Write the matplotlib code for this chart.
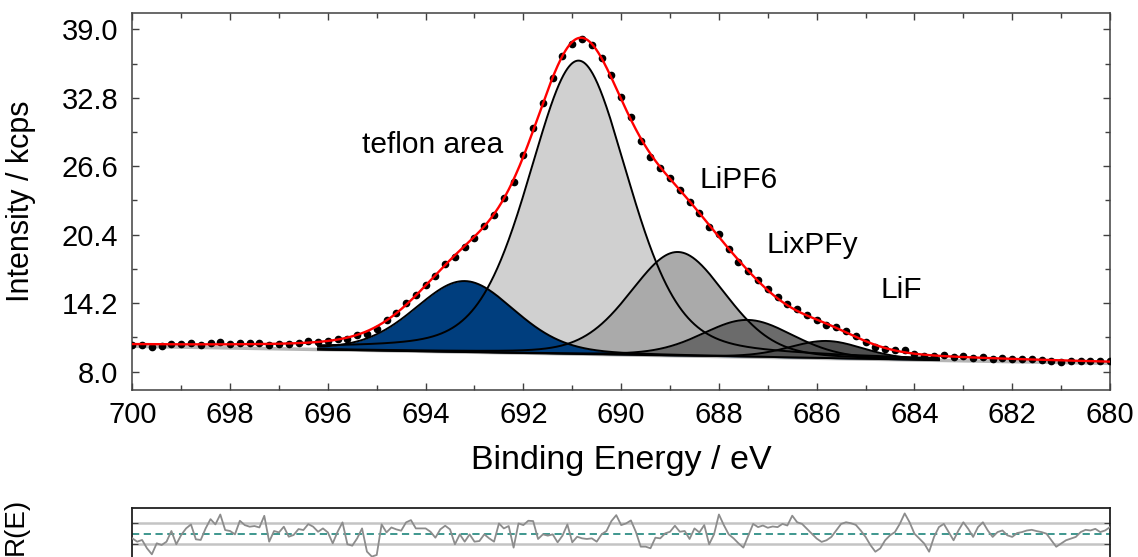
import numpy as np
import matplotlib
matplotlib.use("Agg")
import matplotlib.pyplot as plt
from matplotlib.ticker import MultipleLocator, FixedLocator, FormatStrFormatter, NullFormatter

plt.rcParams['font.family'] = ['Liberation Sans', 'DejaVu Sans']

# Fitted components: centre (eV), height above background (kcps), FWHM (eV), Lorentzian fraction
comp_center = [693.20, 690.87, 688.84, 687.41, 685.80]
comp_height = [6.43, 26.57, 9.40, 3.36, 1.58]
comp_fwhm = [2.40, 2.40, 2.30, 2.20, 1.80]
comp_mix = [0.2, 0.3, 0.2, 0.2, 0.2]
comp_colors = ["#003e7e", "#d0d0d0", "#aaaaaa", "#6b6b6b", "#4f4f4f"]

# Linear background at 700 eV and 680 eV, and the energy window of the fit
bg_start, bg_end = 10.30, 8.75
region = (683.5, 696.2)

# Measured intensity (kcps), 700 -> 680 eV in 0.2 eV steps
counts = [
    10.45, 10.42, 10.25, 10.35, 10.51, 10.46, 10.58, 10.40, 10.64, 10.69,
    10.51, 10.63, 10.57, 10.57, 10.42, 10.55, 10.52, 10.64, 10.74, 10.71,
    10.80, 10.93, 10.96, 11.28, 11.45, 11.84, 12.65, 13.35, 14.20, 14.97,
    15.88, 16.68, 17.78, 18.38, 19.26, 20.11, 21.15, 22.14, 23.76, 25.16,
    27.64, 30.07, 32.28, 34.63, 36.56, 37.67, 38.13, 37.58, 36.36, 34.88,
    32.86, 31.07, 28.89, 27.44, 26.43, 25.50, 24.49, 23.34, 22.38, 21.10,
    20.49, 19.12, 17.96, 17.10, 16.30, 15.45, 14.72, 14.12, 13.65, 13.15,
    12.66, 12.27, 12.00, 11.69, 11.25, 10.72, 10.22, 10.07, 9.94, 9.97,
    9.63, 9.43, 9.43, 9.51, 9.29, 9.44, 9.25, 9.37, 9.18, 9.22,
    9.12, 9.15, 9.14, 9.09, 8.98, 8.92, 8.95, 8.99, 8.99, 8.95,
    8.98,
]

# Normalised fit residual, 700 -> 680 eV in 0.1 eV steps
residual = [
    -0.43, -0.74, -0.58, -1.35, -1.91, -0.89, -1.05, -0.74, 0.25, -0.98,
    -0.12, 0.49, 0.86, -0.52, -0.58, 0.49, 1.35, 0.86, 1.78, 0.34,
    0.25, -0.06, 1.20, 0.80, 0.65, 0.71, 0.58, 1.66, -0.74, 0.25,
    0.12, 0.65, -0.28, -0.12, 0.43, 0.34, 0.89, 0.65, 0.18, 0.49,
    0.12, -0.89, 0.18, 1.05, -0.98, -1.11, -0.43, 0.49, -1.66, -2.12,
    -1.97, 0.86, 0.12, 0.58, 0.40, 0.28, 1.05, 1.26, 0.49, 0.49,
    0.49, 0.18, -0.37, 0.40, 0.74, 0.40, -0.98, -0.06, -0.74, -0.06,
    -0.74, -0.68, -0.06, -0.43, -0.74, 0.95, 0.49, 0.71, -1.29, 0.95,
    0.80, 1.20, 1.17, -0.49, -0.06, -0.18, -0.06, -0.80, -0.18, 0.86,
    -0.80, -0.28, -0.43, -0.49, -0.43, -0.74, -0.06, 0.25, 1.17, 1.72,
    0.80, 0.95, 1.23, 0.18, -1.20, -1.20, -1.35, -0.37, -0.43, 0.03,
    0.18, 0.74, 0.18, 0.25, -0.49, 0.49, 0.12, 0.80, -0.98, -0.06,
    1.78, 0.80, -0.06, -0.43, -0.89, -1.29, -0.18,
    0.91, 0.61, 0.76, 0.55, 0.67, 0.61, 0.91, 0.76, 1.67, 1.06,
    0.91, 0.45, 0.00, -0.45, -0.76, -0.61, -0.30, 0.30, 0.91, 1.06,
    0.97, 0.82, 0.30, -0.30, -1.06, -1.67, -1.36, -0.61, -0.15, 0.15,
    0.91, 1.88, 1.06, 0.00, -0.45, -0.91, -1.67, -0.30, 0.61, 0.91,
    0.15, -0.61, 0.30, 1.06, 0.45, -0.30, 0.61, 1.06, 0.30, -0.30,
    0.15, 0.30, -0.15, -0.30, 0.06, 0.15, 0.30, 0.36, 0.24, 0.15,
    0.00, -0.61, -1.21, -0.91, -0.61, -0.45, -0.30, 0.15, 0.36, 0.30,
    0.45, 0.15, 0.30, 0.61,
]

labels = ["teflon area", "LiPF6", "LixPFy", "LiF"]
label_x = [693.86, 687.59, 686.08, 684.26]
label_y = [28.5, 25.36, 19.47, 15.4]

y_ticks = [8.0, 14.2, 20.4, 26.6, 32.8, 39.0]

E_res = np.linspace(700, 680, len(residual))
E_data = np.linspace(700, 680, len(counts))


def pseudo_voigt(E, c, h, w, m):
    x2 = (E - c) ** 2 / w ** 2
    return h * ((1 - m) * np.exp(-4 * np.log(2) * x2) + m / (1 + 4 * x2))


def background(E):
    return bg_end + (bg_start - bg_end) * (E - 680) / 20


def envelope(E):
    tot = background(E)
    for c, h, w, m in zip(comp_center, comp_height, comp_fwhm, comp_mix):
        tot = tot + pseudo_voigt(E, c, h, w, m)
    return tot


W, H = 1138, 557
fig = plt.figure(figsize=(W / 100, H / 100), dpi=100)
L, R = 132.3, 1110
ax = fig.add_axes([L / W, 1 - 390 / H, (R - L) / W, (390 - 12.7) / H])

# components: tallest filled first so that smaller ones sit on top
Ef = np.linspace(region[0], region[1], 3000)
bgf = background(Ef)
order = np.argsort(comp_height)[::-1]
for rank, k in enumerate(order):
    prof = pseudo_voigt(Ef, comp_center[k], comp_height[k], comp_fwhm[k], comp_mix[k])
    ax.fill_between(Ef, bgf, bgf + prof, color=comp_colors[k], lw=0, zorder=2 + 0.01 * rank)
for k in range(len(comp_center)):
    prof = pseudo_voigt(Ef, comp_center[k], comp_height[k], comp_fwhm[k], comp_mix[k])
    ax.plot(Ef, bgf + prof, color='black', lw=1.4, zorder=3)

Eall = np.linspace(700, 680, 2001)
ax.plot(Eall, background(Eall), color='#b5b5b5', lw=2.5, zorder=1.5)
ax.plot(E_data, counts, 'o', color='black', ms=4.5, zorder=4)
ax.plot(Eall, envelope(Eall), color='#ff0000', lw=1.7, zorder=5)

for t, x, y in zip(labels, label_x, label_y):
    ax.text(x, y, t, fontsize=21.5, ha='center', va='center', zorder=6)

ax.set_xlim(700, 680)
ax.set_ylim(6.34, 40.5)
ax.xaxis.set_major_locator(MultipleLocator(2))
ax.xaxis.set_minor_locator(MultipleLocator(1))
ax.yaxis.set_major_locator(FixedLocator(y_ticks))
ax.yaxis.set_minor_locator(FixedLocator([(a + b) / 2 for a, b in zip(y_ticks[:-1], y_ticks[1:])]))
ax.yaxis.set_major_formatter(FormatStrFormatter('%.1f'))
ax.tick_params(which='both', direction='in', top=True, right=True, colors='#404040',
               labelcolor='black', labelsize=21, width=1.0)
ax.tick_params(which='major', length=5)
ax.tick_params(which='minor', length=3.5)
ax.tick_params(axis='x', pad=8)
ax.tick_params(axis='y', pad=10)
for s in ax.spines.values():
    s.set_color('#404040')
    s.set_linewidth(1.1)
ax.set_xlabel('Binding Energy / eV', fontsize=24.5)
ax.set_ylabel('Intensity / kcps', fontsize=22)
ax.xaxis.set_label_coords(0.5, -0.145)
ax.yaxis.set_label_coords(-0.099, 0.5)

ax2 = fig.add_axes([L / W, (H - 559.7) / H, (R - L) / W, 52 / H])
ax2.axhline(1, color='#c4c4c4', lw=1.8, zorder=1)
ax2.axhline(-1, color='#c4c4c4', lw=1.8, zorder=1)
ax2.axhline(0, color='#2f8f86', lw=1.3, ls=(0, (4, 2.5)), zorder=2)
ax2.plot(E_res, residual, color='#8c8c8c', lw=1.3, zorder=3)
ax2.set_xlim(700, 680)
ax2.set_ylim(-2.41, 2.41)
ax2.set_yticks([-1, 1])
ax2.yaxis.set_major_formatter(NullFormatter())
ax2.tick_params(axis='y', direction='in', right=True, length=4, colors='#404040')
ax2.tick_params(axis='x', length=0, labelbottom=False)
for s in ax2.spines.values():
    s.set_color('#202020')
    s.set_linewidth(1.3)

fig.text(16 / W, 1 - 526 / H, 'R(E)', fontsize=20, rotation=90, ha='center', va='center')

fig.savefig('out.png', dpi=100)
